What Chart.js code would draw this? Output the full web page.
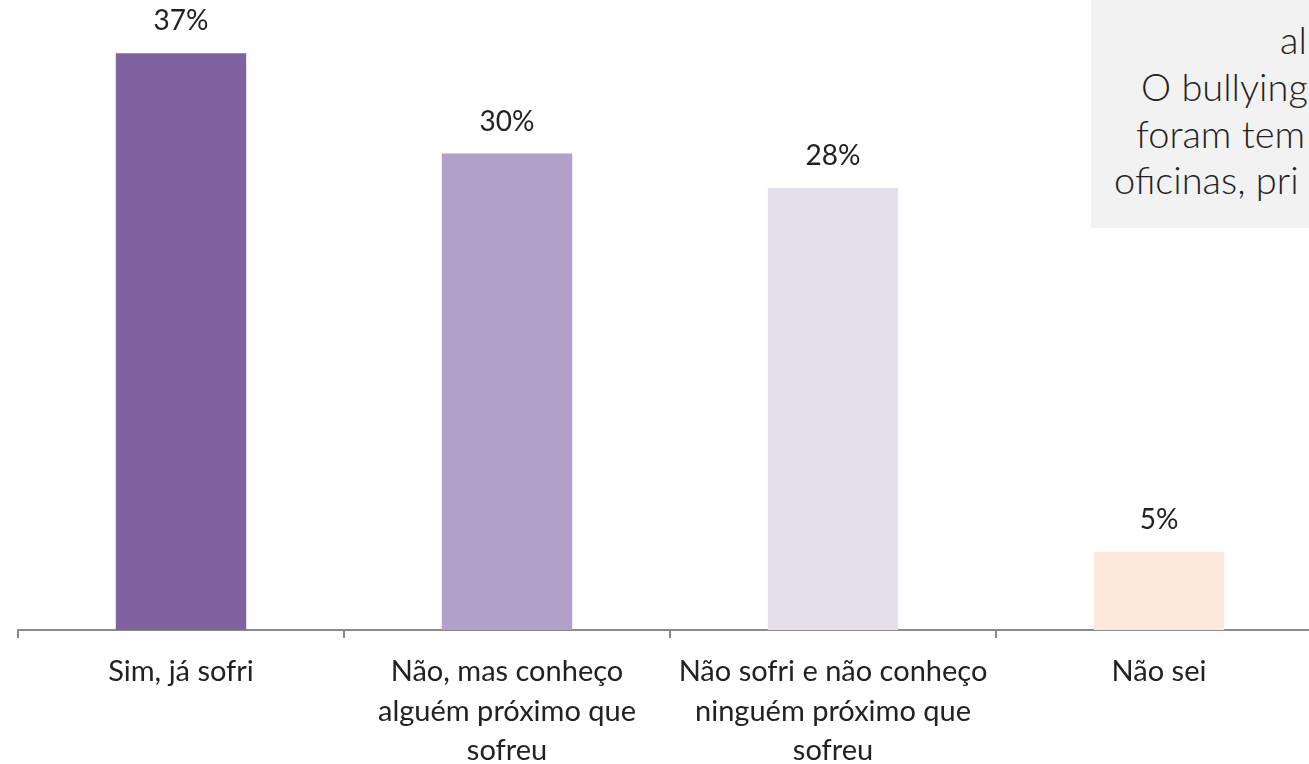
<!DOCTYPE html>
<html lang="pt">
<head>
<meta charset="utf-8">
<title>Bullying</title>
<script src="https://cdn.jsdelivr.net/npm/chart.js@4/dist/chart.umd.min.js"></script>
<style>
  html, body { margin:0; padding:0; background:#fff; }
  body { width:1309px; height:764px; overflow:hidden; position:relative; }
  #wrap { position:absolute; left:0; top:0; width:1330px; height:764px; }
  .note {
    position:absolute; left:1091px; top:0; width:218px; height:228px;
    background:#f2f2f2; overflow:hidden;
    font-family:Lato, "Open Sans", sans-serif; font-weight:300; font-size:38px; color:#222;
  }
  .note div { position:absolute; white-space:nowrap; line-height:1; }
</style>
</head>
<body>
<div id="wrap"><canvas id="bullyChart" width="1330" height="764"></canvas></div>
<div class="note">
  <div style="left:189px; top:20px">al</div>
  <div style="left:50px; top:67px">O bullying</div>
  <div style="left:45px; top:114px">foram tem</div>
  <div style="left:23px; top:160px">oficinas, pri</div>
</div>
<script>
// -------- data --------
const categories = [
  'Sim, já sofri',
  ['Não, mas conheço', 'alguém próximo que', 'sofreu'],
  ['Não sofri e não conheço', 'ninguém próximo que', 'sofreu'],
  'Não sei'
];
const shares    = [36.8, 30.4, 28.2, 5.0];          // % of answers
const shareText = ['37%', '30%', '28%', '5%'];       // labels as printed
const barColors = ['#7f63a1', '#b1a0c7', '#e5dfec', '#fce9da'];

// value labels above bars
const barLabels = {
  id: 'barLabels',
  afterDatasetsDraw(chart){
    const { ctx } = chart;
    const meta = chart.getDatasetMeta(0);
    ctx.save();
    ctx.font = '28px Lato, "Open Sans", sans-serif';
    ctx.fillStyle = '#222';
    ctx.textAlign = 'center';
    ctx.textBaseline = 'middle';
    meta.data.forEach((bar, i) => ctx.fillText(shareText[i], bar.x, bar.y - 32));
    ctx.restore();
  }
};

new Chart(document.getElementById('bullyChart'), {
  type: 'bar',
  data: {
    labels: categories,
    datasets: [{ data: shares, backgroundColor: barColors, borderWidth: 0,
                 barPercentage: 0.4, categoryPercentage: 1 }]
  },
  options: {
    responsive: false, animation: false,
    layout: { padding: { left: 18, right: 8, top: 3, bottom: 0 } },
    plugins: { legend: { display: false }, tooltip: { enabled: false } },
    scales: {
      y: { display: false, min: 0, max: 40 },
      x: {
        offset: true,
        grid: { display: true, offset: true, drawOnChartArea: false, drawTicks: true,
                tickLength: 8, color: '#8a8a8a', lineWidth: 2 },
        border: { display: true, color: '#8a8a8a', width: 2 },
        ticks: { color: '#222', padding: 14, maxRotation: 0, autoSkip: false,
                 font: { family: 'Lato, "Open Sans", sans-serif', size: 29, lineHeight: 1.36 } },
        afterFit(scale){ scale.height = 134; }
      }
    }
  },
  plugins: [barLabels]
});
</script>
</body>
</html>
